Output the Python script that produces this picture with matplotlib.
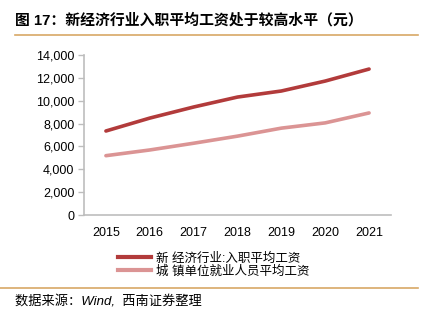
import matplotlib.pyplot as plt
from matplotlib.lines import Line2D

plt.rcParams['font.family'] = ['Liberation Sans', 'Noto Sans CJK SC', 'DejaVu Sans']

# data (yuan)
years = [2015, 2016, 2017, 2018, 2019, 2020, 2021]
new_econ = [7350, 8480, 9450, 10320, 10850, 11720, 12770]
urban_avg = [5190, 5690, 6280, 6900, 7600, 8060, 8930]
y_ticks = [0, 2000, 4000, 6000, 8000, 10000, 12000, 14000]
labels = ['新 经济行业:入职平均工资', '城 镇单位就业人员平均工资']

dark_red = '#B23B3B'
light_red = '#DB9494'
gold = '#D8A866'
grey = '#BDBDBD'

fig = plt.figure(figsize=(4.21, 3.22), dpi=100)
ax = fig.add_axes([84/421, 107/322, 307/421, 160/322])

ax.plot(years, new_econ, color=dark_red, lw=2.6, solid_capstyle='round')
ax.plot(years, urban_avg, color=light_red, lw=2.6, solid_capstyle='round')

ax.set_xlim(2014.5, 2021.5)
ax.set_ylim(0, 14000)
ax.set_xticks(years)
ax.set_yticks(y_ticks)
ax.set_yticklabels([f'{v:,}' for v in y_ticks])
ax.tick_params(axis='y', labelsize=9, length=4, color=grey, width=1, pad=3)
ax.tick_params(axis='x', labelsize=9, length=0, pad=9)

for s in ['top', 'right']:
    ax.spines[s].set_visible(False)
for s in ['left', 'bottom']:
    ax.spines[s].set_color(grey)
    ax.spines[s].set_linewidth(1.2)

handles = [Line2D([], [], color=dark_red, lw=3),
           Line2D([], [], color=light_red, lw=3)]
fig.legend(handles, labels, loc='upper left', bbox_to_anchor=(112/421, 1 - 246/322),
           frameon=False, fontsize=9, handlelength=2.6, handletextpad=0.4,
           labelspacing=0.05, borderpad=0)

# title and separator lines
fig.text(15/421, 1 - 20/322, '图 17：新经济行业入职平均工资处于较高水平（元）',
         fontsize=10.7, fontweight='bold', va='center', ha='left')
fig.add_artist(Line2D([15/421, 418/421], [1 - 35/322, 1 - 35/322], color=gold, lw=1.2))
fig.add_artist(Line2D([0, 418/421], [1 - 288/322, 1 - 288/322], color=gold, lw=1.2))

fig.text(15/421, 1 - 302/322, '数据来源：Wind,  西南证券整理', fontsize=9.5,
         style='italic', va='center', ha='left')

fig.savefig('out.png', dpi=100)
